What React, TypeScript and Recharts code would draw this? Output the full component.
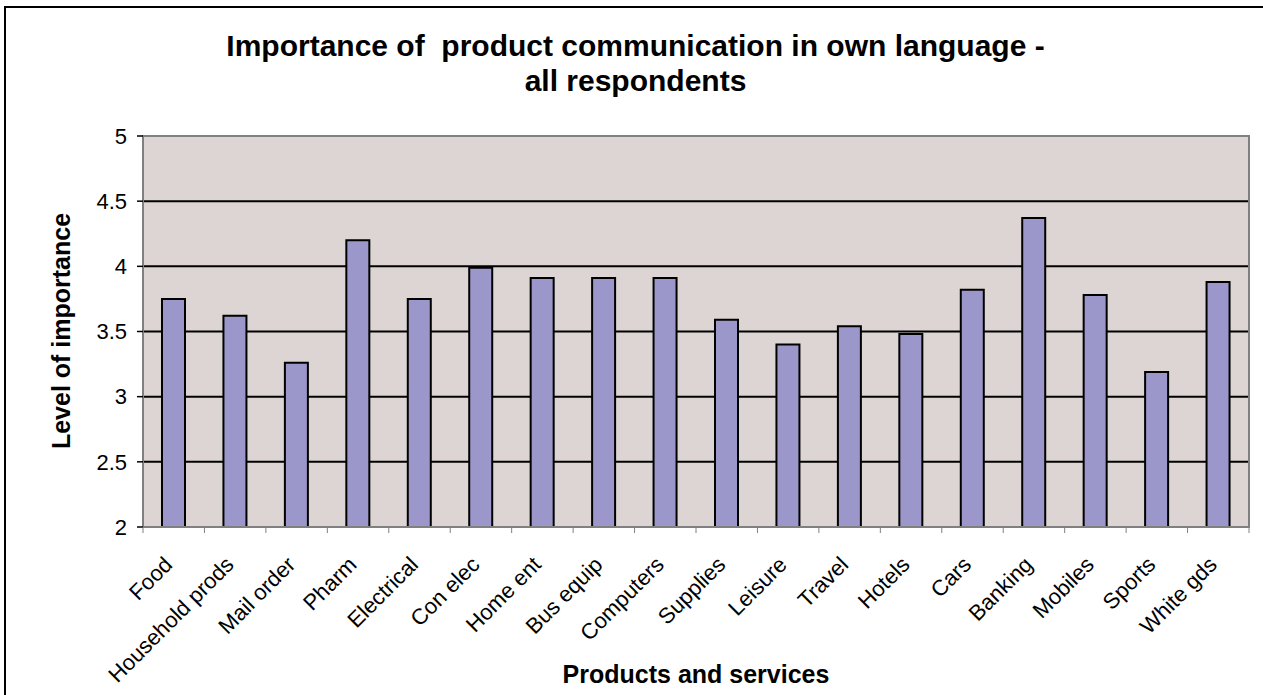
import React from "react";
import {
  BarChart,
  Bar,
  XAxis,
  YAxis,
  CartesianGrid,
  ReferenceArea,
} from "recharts";

const categories = [
  "Food",
  "Household prods",
  "Mail order",
  "Pharm",
  "Electrical",
  "Con elec",
  "Home ent",
  "Bus equip",
  "Computers",
  "Supplies",
  "Leisure",
  "Travel",
  "Hotels",
  "Cars",
  "Banking",
  "Mobiles",
  "Sports",
  "White gds",
];

const importance = [
  3.75, 3.62, 3.26, 4.2, 3.75, 3.99, 3.91, 3.91, 3.91, 3.59, 3.4, 3.54, 3.48,
  3.82, 4.37, 3.78, 3.19, 3.88,
];

const yTicks = [2, 2.5, 3, 3.5, 4, 4.5, 5];
const gridValues = [2.5, 3, 3.5, 4, 4.5];

const data = categories.map((name, i) => ({ name, value: importance[i] }));

const FONT = '"Liberation Sans", Arial, Helvetica, sans-serif';

const XTick = (props: any) => {
  const { x, y, payload, index } = props;
  const half = payload && payload.offset ? payload.offset : 1106 / 36;
  const axisY = y - 6;
  const ly = axisY + 39;
  return (
    <g>
      <line x1={x - half} x2={x - half} y1={axisY} y2={axisY + 6} stroke="#808080" strokeWidth={1} />
      {index === categories.length - 1 && (
        <line x1={x + half} x2={x + half} y1={axisY} y2={axisY + 6} stroke="#808080" strokeWidth={1} />
      )}
      <text
        x={x}
        y={ly}
        transform={`rotate(-45 ${x} ${ly})`}
        textAnchor="end"
        fontSize={22}
        fontFamily={FONT}
        fill="#000"
      >
        {payload.value}
      </text>
    </g>
  );
};

const XTitle = (props: any) => {
  const vb = props.viewBox || {};
  return (
    <text
      x={vb.x + vb.width / 2}
      y={683}
      textAnchor="middle"
      fontSize={25}
      fontWeight="bold"
      fontFamily={FONT}
      fill="#000"
    >
      Products and services
    </text>
  );
};

const YTitle = () => (
  <text
    x={70}
    y={331}
    transform="rotate(-90 70 331)"
    textAnchor="middle"
    fontSize={25}
    fontWeight="bold"
    fontFamily={FONT}
    fill="#000"
  >
    Level of importance
  </text>
);

const App = () => {
  return (
    <div
      style={{
        position: "fixed",
        left: 0,
        top: 0,
        width: 1263,
        height: 695,
        overflow: "hidden",
        background: "#fff",
        fontFamily: FONT,
      }}
    >
      <div
        style={{
          position: "absolute",
          left: 4,
          top: 6,
          width: 1300,
          height: 720,
          border: "2px solid #000",
        }}
      />
      <div
        style={{
          position: "absolute",
          left: 4,
          top: 28,
          width: 1263,
          textAlign: "center",
          fontSize: 30,
          fontWeight: "bold",
          lineHeight: "35px",
          whiteSpace: "pre",
          color: "#000",
        }}
      >
        {"Importance of  product communication in own language -\nall respondents"}
      </div>
      <div style={{ position: "absolute", left: 0, top: 0 }}>
        <BarChart
          width={1263}
          height={695}
          data={data}
          margin={{ top: 136, right: 14, bottom: 0, left: 0 }}
        >
          <CartesianGrid
            vertical={false}
            horizontalValues={gridValues}
            stroke="#000"
            strokeWidth={2}
            fill="#DDD5D3"
            fillOpacity={1}
          />
          <ReferenceArea
            y1={2}
            y2={5}
            fill="none"
            stroke="#808080"
            strokeWidth={2}
            ifOverflow="visible"
          />
          <XAxis
            dataKey="name"
            type="category"
            height={168}
            interval={0}
            tickSize={6}
            tickMargin={0}
            tickLine={false}
            axisLine={{ stroke: "#808080", strokeWidth: 2 }}
            tick={<XTick />}
            label={<XTitle />}
          />
          <YAxis
            type="number"
            domain={[2, 5]}
            ticks={yTicks}
            width={143}
            tickSize={6}
            tickMargin={10}
            tickLine={{ stroke: "#000", strokeWidth: 1.5 }}
            axisLine={{ stroke: "#808080", strokeWidth: 2 }}
            tick={{ fontSize: 22, fill: "#000", fontFamily: FONT }}
            label={<YTitle />}
          />
          <Bar
            dataKey="value"
            fill="#9C97CA"
            stroke="#000"
            strokeWidth={2}
            barSize={23}
            isAnimationActive={false}
          />
        </BarChart>
      </div>
    </div>
  );
};

export default App;
